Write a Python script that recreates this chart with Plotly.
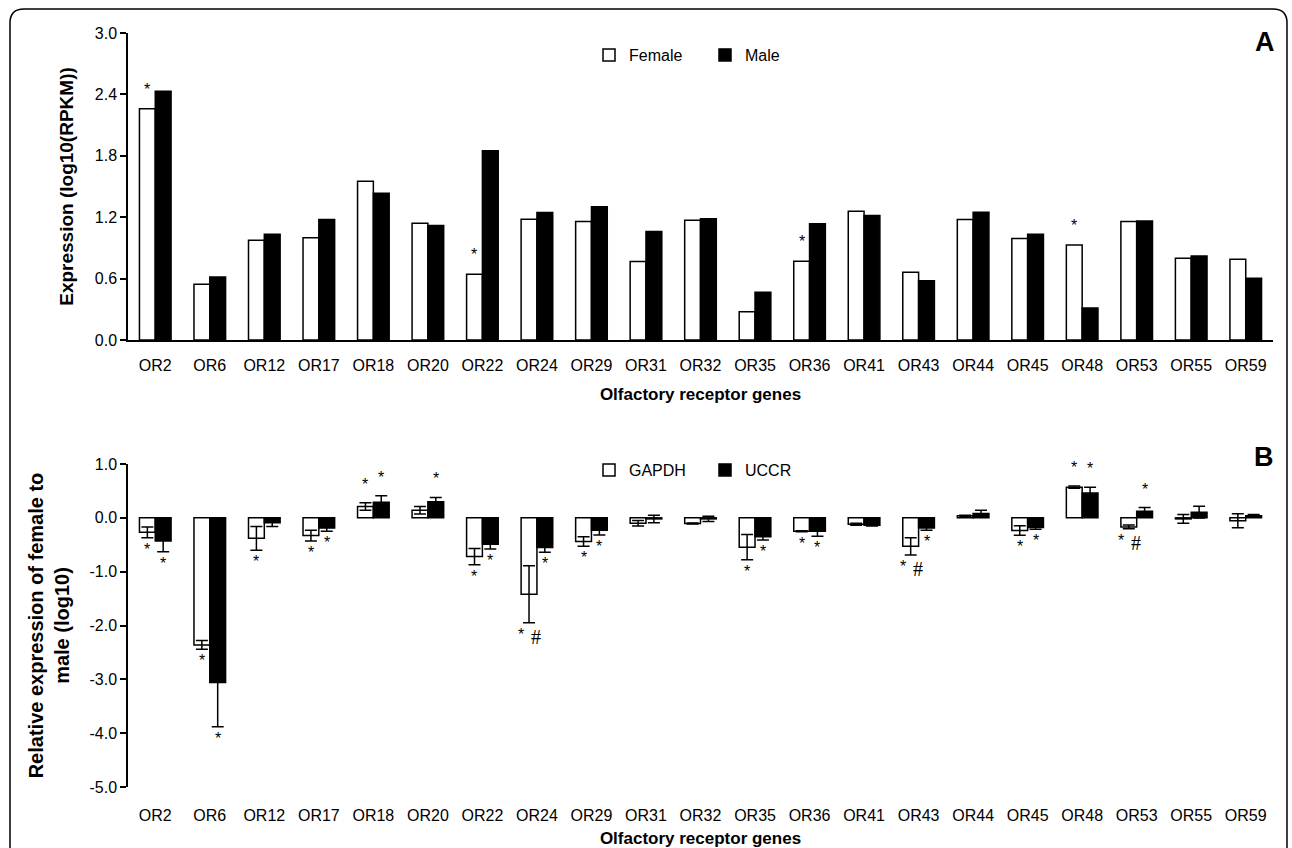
import plotly.graph_objects as go

# ---- data ----
genes = ["OR2", "OR6", "OR12", "OR17", "OR18", "OR20", "OR22", "OR24", "OR29", "OR31", "OR32",
         "OR35", "OR36", "OR41", "OR43", "OR44", "OR45", "OR48", "OR53", "OR55", "OR59"]

# panel A: expression log10(RPKM)
female = [2.26, 0.545, 0.975, 0.998, 1.552, 1.141, 0.642, 1.180, 1.157, 0.766, 1.170,
          0.277, 0.770, 1.259, 0.662, 1.177, 0.991, 0.929, 1.157, 0.799, 0.789]
male = [2.43, 0.616, 1.034, 1.177, 1.435, 1.118, 1.849, 1.245, 1.301, 1.060, 1.184,
        0.466, 1.135, 1.216, 0.580, 1.249, 1.034, 0.313, 1.164, 0.822, 0.603]
stars_a = ["OR2", "OR22", "OR36", "OR48"]  # female significant

# panel B: relative expression female/male (log10)
gapdh = [-0.27, -2.36, -0.38, -0.33, 0.21, 0.14, -0.72, -1.42, -0.44, -0.10, -0.105,
         -0.545, -0.25, -0.12, -0.53, 0.04, -0.235, 0.57, -0.17, -0.02, -0.055]
gapdh_err = [0.10, 0.08, 0.22, 0.10, 0.07, 0.07, 0.15, 0.53, 0.09, 0.05, 0.01,
             0.235, 0.01, 0.02, 0.16, 0.01, 0.09, 0.02, 0.035, 0.08, 0.13]
uccr = [-0.43, -3.06, -0.09, -0.19, 0.29, 0.30, -0.49, -0.55, -0.23, -0.02, -0.02,
        -0.35, -0.25, -0.14, -0.19, 0.08, -0.18, 0.46, 0.12, 0.105, 0.04]
uccr_err = [0.20, 0.82, 0.07, 0.06, 0.12, 0.08, 0.09, 0.09, 0.09, 0.07, 0.05,
            0.06, 0.09, 0.01, 0.04, 0.06, 0.03, 0.11, 0.07, 0.11, 0.02]
# (gene, series, side, mark)
marks_b = [
    ("OR2", "G", "below", "*"), ("OR2", "U", "below", "*"),
    ("OR6", "G", "below", "*"), ("OR6", "U", "below", "*"),
    ("OR12", "G", "below", "*"),
    ("OR17", "G", "below", "*"), ("OR17", "U", "below", "*"),
    ("OR18", "G", "above", "*"), ("OR18", "U", "above", "*"),
    ("OR20", "U", "above", "*"),
    ("OR22", "G", "below", "*"), ("OR22", "U", "below", "*"),
    ("OR24", "G", "below", "*#"), ("OR24", "U", "below", "*"),
    ("OR29", "G", "below", "*"), ("OR29", "U", "below", "*"),
    ("OR35", "G", "below", "*"), ("OR35", "U", "below", "*"),
    ("OR36", "G", "below", "*"), ("OR36", "U", "below", "*"),
    ("OR43", "G", "below", "*#"), ("OR43", "U", "below", "*"),
    ("OR45", "G", "below", "*"), ("OR45", "U", "below", "*"),
    ("OR48", "G", "above", "*"), ("OR48", "U", "above", "*"),
    ("OR53", "G", "below", "*#"), ("OR53", "U", "above", "*"),
]

ya_vals = [0, 0.6, 1.2, 1.8, 2.4, 3.0]
ya_text = ["0.0", "0.6", "1.2", "1.8", "2.4", "3.0"]
yb_vals = [-5, -4, -3, -2, -1, 0, 1]
yb_text = ["-5.0", "-4.0", "-3.0", "-2.0", "-1.0", "0.0", "1.0"]

# ---- geometry (page pixels; body margin is removed in post_script) ----
W, H = 1292, 848
ML, MT = 128, 33
MR, MB = W - 1273, H - 787
PW, PH = W - ML - MR, H - MT - MB
dom_a = [(787 - 340) / PH, 1.0]
dom_b = [0.0, (787 - 464) / PH]
zero_b = dom_b[0] + (dom_b[1] - dom_b[0]) * 5 / 6
BARGAP = 0.42
half = PW / len(genes) * (1 - BARGAP) / 4  # offset of each bar centre

FONT = "Liberation Sans, Arial, sans-serif"


def px(x):
    return (x - ML) / PW


def py(y):
    return (H - MB - y) / PH


fig = go.Figure()
outline = dict(color="black", width=1.5)
fig.add_trace(go.Bar(x=genes, y=female, name="Female", marker=dict(color="white", line=outline),
                     xaxis="x", yaxis="y", legend="legend"))
fig.add_trace(go.Bar(x=genes, y=male, name="Male", marker=dict(color="black", line=outline),
                     xaxis="x", yaxis="y", legend="legend"))
eb = dict(type="data", color="black", thickness=1.5, width=6)
fig.add_trace(go.Bar(x=genes, y=gapdh, name="GAPDH", marker=dict(color="white", line=outline),
                     error_y=dict(array=gapdh_err, **eb), xaxis="x2", yaxis="y2", legend="legend2"))
fig.add_trace(go.Bar(x=genes, y=uccr, name="UCCR", marker=dict(color="black", line=outline),
                     error_y=dict(array=uccr_err, **eb), xaxis="x2", yaxis="y2", legend="legend2"))

annots = []
star_font = dict(family=FONT, size=16, color="black")
hash_font = dict(family="Liberation Serif, serif", size=20, color="black")
for g in stars_a:
    v = female[genes.index(g)]
    annots.append(dict(x=g, y=v, xref="x", yref="y", text="*", showarrow=False,
                       xshift=-half, yanchor="bottom", yshift=9, font=star_font))
for g, s, side, mark in marks_b:
    i = genes.index(g)
    v, e = (gapdh[i], gapdh_err[i]) if s == "G" else (uccr[i], uccr_err[i])
    dx = -half if s == "G" else half
    if side == "above":
        annots.append(dict(x=g, y=v + e, xref="x2", yref="y2", text="*", showarrow=False,
                           xshift=dx, yanchor="bottom", yshift=8, font=star_font))
    elif "#" in mark:
        annots.append(dict(x=g, y=v - e, xref="x2", yref="y2", text="*", showarrow=False,
                           xshift=dx - 8, yanchor="top", yshift=-1, font=star_font))
        annots.append(dict(x=g, y=v - e, xref="x2", yref="y2", text="#", showarrow=False,
                           xshift=dx + 7, yanchor="top", yshift=-1, font=hash_font))
    else:
        annots.append(dict(x=g, y=v - e, xref="x2", yref="y2", text="*", showarrow=False,
                           xshift=dx, yanchor="top", yshift=-1, font=star_font))

annots.append(dict(x=px(1265), y=py(42), xref="paper", yref="paper", text="<b>A</b>",
                   xanchor="center", yanchor="middle", showarrow=False,
                   font=dict(family=FONT, size=27, color="black")))
annots.append(dict(x=px(1264), y=py(457), xref="paper", yref="paper", text="<b>B</b>",
                   xanchor="center", yanchor="middle", showarrow=False,
                   font=dict(family=FONT, size=27, color="black")))

# rounded frame around the figure
x0, x1, y0, y1, r = 10, 1287, 9, 870, 14
frame = (f"M {px(x0)},{py(y1)} L {px(x0)},{py(y0 + r)} Q {px(x0)},{py(y0)} {px(x0 + r)},{py(y0)} "
         f"L {px(x1 - r)},{py(y0)} Q {px(x1)},{py(y0)} {px(x1)},{py(y0 + r)} L {px(x1)},{py(y1)}")

tickfont = dict(family=FONT, size=16, color="black")
common_x = dict(type="category", categoryorder="array", categoryarray=genes,
                range=[-0.5, len(genes) - 0.5], showgrid=False, zeroline=False, automargin=False)
bticks = dict(tickson="boundaries", ticklen=6, tickwidth=1.5, tickcolor="black",
              showticklabels=False)
axis_title = dict(family=FONT, size=17, color="black")
legend_common = dict(orientation="h", xanchor="left", yanchor="middle",
                     font=dict(family=FONT, size=16, color="black"), itemwidth=30,
                     entrywidth=71, entrywidthmode="pixels", bgcolor="rgba(0,0,0,0)")

fig.update_layout(
    width=W, height=H,
    margin=dict(l=ML, r=MR, t=MT, b=MB, autoexpand=False),
    paper_bgcolor="white", plot_bgcolor="white",
    font=dict(family=FONT, size=16, color="black"),
    barmode="group", bargap=BARGAP, bargroupgap=0,
    xaxis=dict(domain=[0, 1], anchor="y", showline=True, linecolor="black", linewidth=1.5,
               ticks="outside", ticklen=10, tickcolor="rgba(0,0,0,0)", tickfont=tickfont,
               title=dict(text="<b>Olfactory receptor genes</b>", font=axis_title, standoff=15),
               **common_x),
    xaxis4=dict(overlaying="x", anchor="y", ticks="outside", **bticks, **common_x),
    xaxis6=dict(overlaying="x", anchor="y", ticks="inside", **bticks, **common_x),
    yaxis=dict(domain=dom_a, anchor="x", range=[0, 3], tickvals=ya_vals, ticktext=ya_text,
               showline=True, linecolor="black", linewidth=1.5, ticks="outside", ticklen=6,
               tickwidth=1.5, tickcolor="black", tickfont=tickfont, showgrid=False, zeroline=False,
               automargin=False,
               title=dict(text="<b>Expression (log10(RPKM))</b>",
                          font=dict(family=FONT, size=19, color="black"), standoff=16)),
    xaxis2=dict(domain=[0, 1], anchor="y2", showline=False, ticks="outside", ticklen=14,
                tickcolor="rgba(0,0,0,0)", tickfont=tickfont,
                title=dict(text="<b>Olfactory receptor genes</b>", font=axis_title, standoff=9),
                **common_x),
    xaxis3=dict(overlaying="x2", anchor="free", position=zero_b, showline=True, linecolor="black",
                linewidth=1.5, ticks="outside", **bticks, **common_x),
    xaxis5=dict(overlaying="x2", anchor="free", position=zero_b, ticks="inside", **bticks, **common_x),
    yaxis2=dict(domain=dom_b, anchor="x2", range=[-5, 1], tickvals=yb_vals, ticktext=yb_text,
                showline=True, linecolor="black", linewidth=1.5, ticks="outside", ticklen=6,
                tickwidth=1.5, tickcolor="black", tickfont=tickfont, showgrid=False, zeroline=False,
                automargin=False,
                title=dict(text="<b>Relative expression of female to<br>male (log10)</b>",
                           font=dict(family=FONT, size=20, color="black"), standoff=14)),
    legend=dict(x=px(589), y=py(55), **legend_common),
    legend2=dict(x=px(589), y=py(470), **legend_common),
    annotations=annots,
    shapes=[dict(type="path", path=frame, xref="paper", yref="paper",
                 line=dict(color="black", width=1.5))],
)

fig.write_html("out.html", config={"displayModeBar": False},
               post_script="document.body.style.margin='0';document.body.style.overflow='hidden';")
